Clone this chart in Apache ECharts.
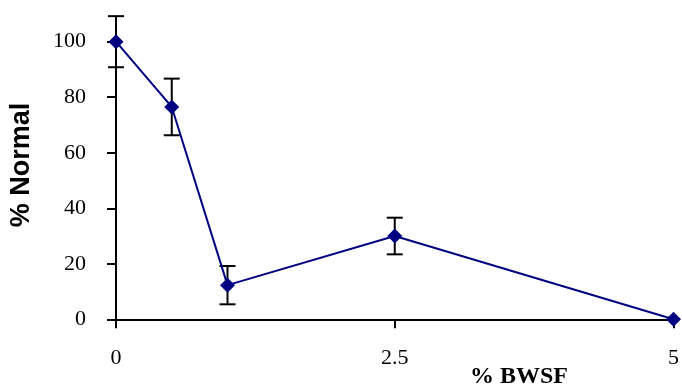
<!DOCTYPE html>
<html>
<head>
<meta charset="utf-8">
<script src="https://cdn.jsdelivr.net/npm/echarts@6/dist/echarts.min.js"></script>
<style>
html,body{margin:0;padding:0;background:#fff;}
#chart{width:682px;height:391px;}
</style>
</head>
<body>
<div id="chart"></div>
<script>
var xValues = [0, 0.5, 1, 2.5, 5];
var yValues = [100, 76.5, 12.3, 30, 0];
var yErrors = [9.2, 10.2, 6.9, 6.6, 0];
var xTickLabels = ['0', '2.5', '5'];
var yTicks = [0, 20, 40, 60, 80, 100];
var xTitle = '% BWSF';
var yTitle = '% Normal';

var lineData = xValues.map(function (x, i) { return [x, yValues[i]]; });
var errData = xValues.map(function (x, i) { return [x, yValues[i] - yErrors[i], yValues[i] + yErrors[i]]; })
  .filter(function (d, i) { return yErrors[i] > 0; });

var serif = '"Liberation Serif", "Times New Roman", serif';
var chart = echarts.init(document.getElementById('chart'));
chart.setOption({
  animation: false,
  backgroundColor: '#fff',
  grid: { left: 116, right: 6, top: 41.7, bottom: 71.7, containLabel: false },
  xAxis: {
    type: 'value', min: 0, max: 5, interval: 2.5,
    splitLine: { show: false },
    axisLine: { lineStyle: { color: '#000', width: 2 } },
    axisTick: { inside: false, length: 9, lineStyle: { color: '#000', width: 2 } },
    axisLabel: {
      margin: 28, color: '#000', fontFamily: serif, fontSize: 22,
      formatter: function (v) {
        var s = String(v);
        return xTickLabels.indexOf(s) >= 0 ? s : '';
      }
    }
  },
  yAxis: {
    type: 'value', min: yTicks[0], max: yTicks[yTicks.length - 1], interval: 20,
    splitLine: { show: false },
    axisLine: { show: true, lineStyle: { color: '#000', width: 2 } },
    axisTick: { show: true, inside: false, length: 9, lineStyle: { color: '#000', width: 2 } },
    axisLabel: { margin: 30, color: '#000', fontFamily: serif, fontSize: 22 }
  },
  graphic: [{
    type: 'text', x: 519, y: 389,
    style: { text: xTitle, textAlign: 'center', textVerticalAlign: 'bottom', fill: '#000',
      font: 'bold 24px "Liberation Serif", "Times New Roman", serif' }
  }, {
    type: 'text', x: 22, y: 165, rotation: Math.PI / 2,
    style: { text: yTitle, textAlign: 'center', textVerticalAlign: 'middle', fill: '#000',
      font: 'bold 27px "Liberation Sans", Arial, sans-serif' }
  }],
  series: [{
    type: 'custom',
    z: 1,
    clip: false,
    data: errData,
    renderItem: function (params, api) {
      var x = api.value(0);
      var lo = api.coord([x, api.value(1)]);
      var hi = api.coord([x, api.value(2)]);
      var hw = 8;
      var st = { stroke: '#000', lineWidth: 2 };
      return { type: 'group', children: [
        { type: 'line', shape: { x1: lo[0], y1: lo[1], x2: hi[0], y2: hi[1] }, style: st },
        { type: 'line', shape: { x1: lo[0] - hw, y1: lo[1], x2: lo[0] + hw, y2: lo[1] }, style: st },
        { type: 'line', shape: { x1: hi[0] - hw, y1: hi[1], x2: hi[0] + hw, y2: hi[1] }, style: st }
      ] };
    }
  }, {
    type: 'line',
    z: 5,
    data: lineData,
    clip: false,
    symbol: 'diamond',
    symbolSize: [15, 15],
    lineStyle: { color: '#000080', width: 2 },
    itemStyle: { color: '#000080' }
  }]
});
</script>
</body>
</html>
